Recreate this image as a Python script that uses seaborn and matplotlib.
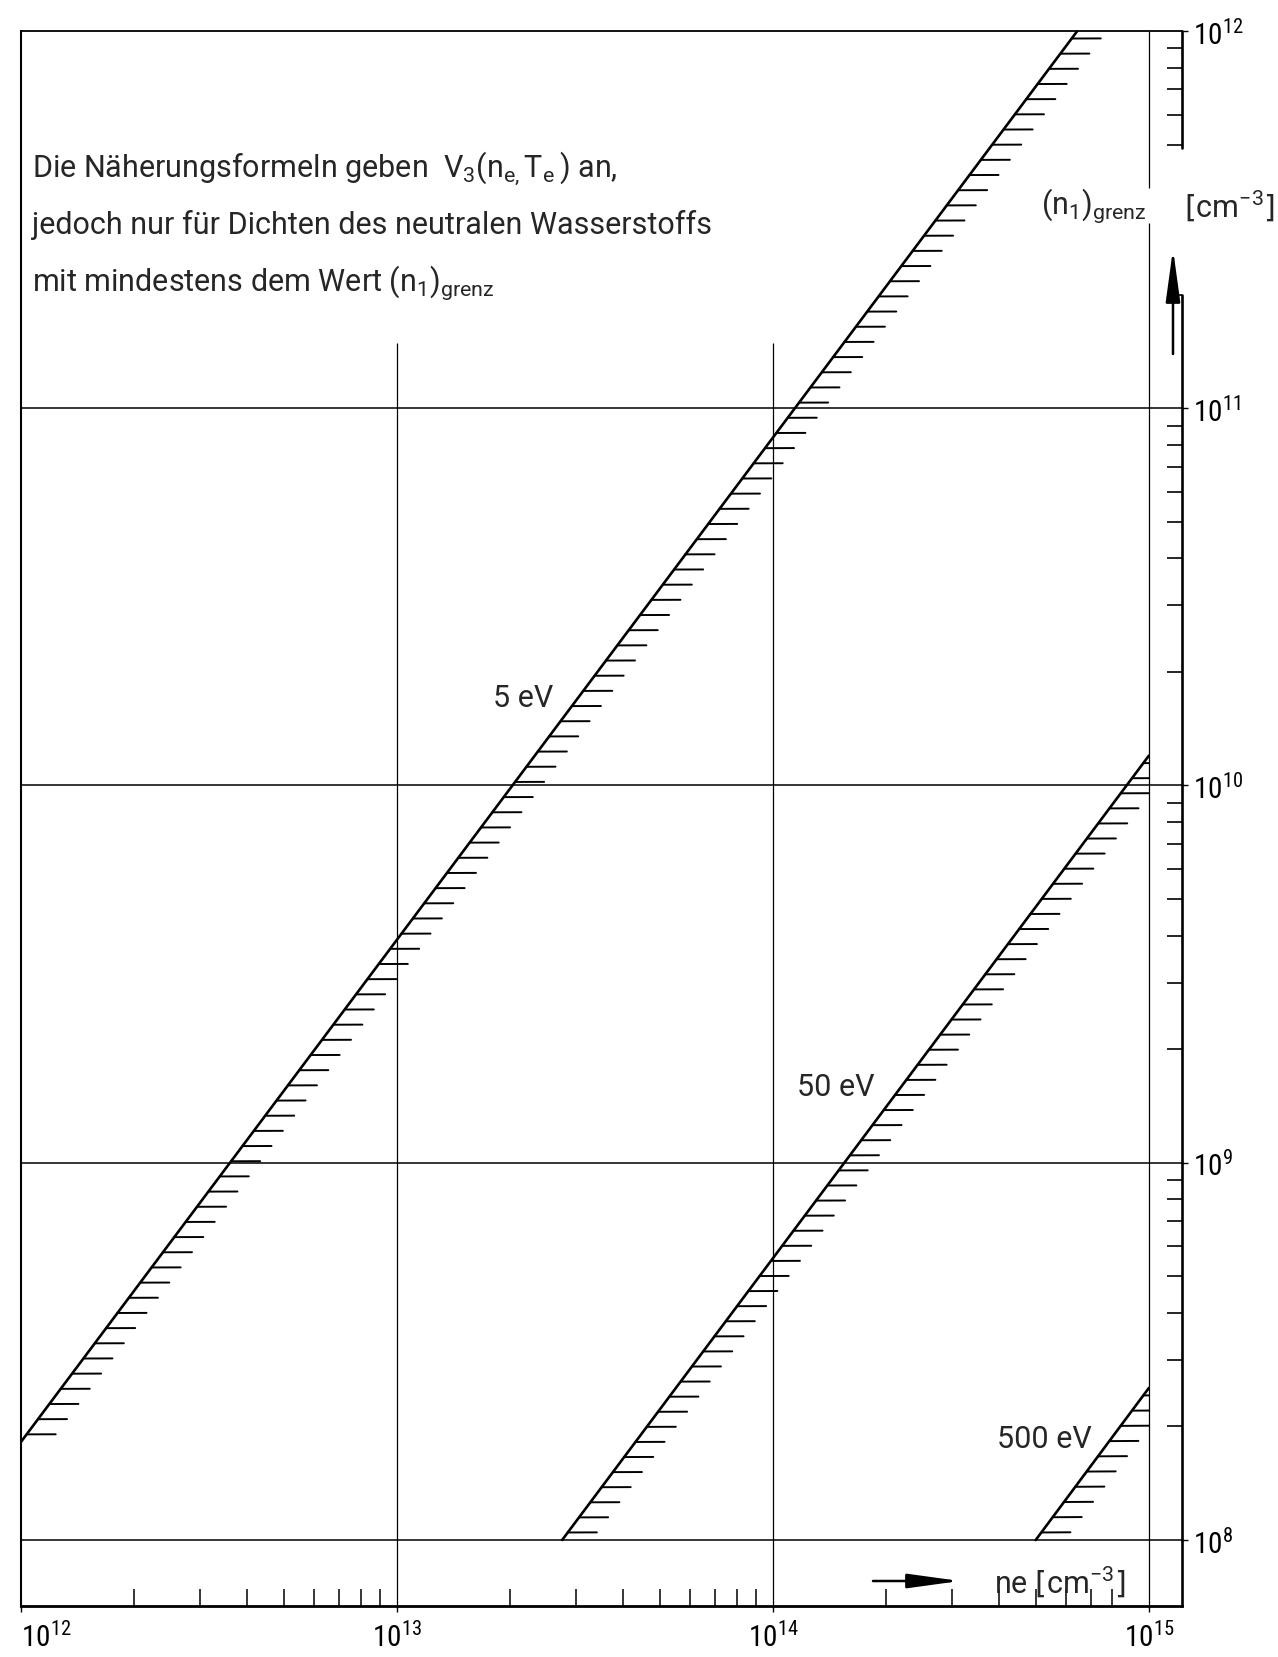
import matplotlib
matplotlib.use('Agg')
import numpy as np
import pandas as pd
import seaborn as sns
import matplotlib.pyplot as plt
from matplotlib import patheffects, font_manager
from matplotlib.patches import Rectangle
from matplotlib.ticker import FixedLocator, NullFormatter

# limit lines (n1)grenz vs ne, straight in log-log -> start / end points
temps = ['5 eV', '50 eV', '500 eV']
ne_start = [1.0e12, 2.75e13, 5.0e14]
ne_end = [6.45e14, 1.0e15, 1.0e15]
n1_start = [1.82e8, 1.0e8, 1.0e8]
n1_end = [1.0e12, 1.2e10, 2.53e8]

# where the temperature labels sit
label_ne = [2.16e13, 1.47e14, 5.28e14]
label_n1 = [1.71e10, 1.59e9, 1.86e8]

x_major = [1e12, 1e13, 1e14, 1e15]
y_major = [1e8, 1e9, 1e10, 1e11, 1e12]
x_labels = [r'$\mathregular{10^{12}}$', r'$\mathregular{10^{13}}$',
            r'$\mathregular{10^{14}}$', r'$\mathregular{10^{15}}$']
y_labels = [r'$\mathregular{10^{8}}$', r'$\mathregular{10^{9}}$', r'$\mathregular{10^{10}}$',
            r'$\mathregular{10^{11}}$', r'$\mathregular{10^{12}}$']

note_lines = [
    r'Die Näherungsformeln geben  $\mathregular{V_3(n_{e,}T_e\,)}$ an,',
    'jedoch nur für Dichten des neutralen Wasserstoffs',
    r'mit mindestens dem Wert $\mathregular{(n_1)_{grenz}}$',
]

xlim = (1e12, 10 ** 15.088)
ylim = (10 ** 7.825, 1e12)

sns.set_theme(style='white')
names = {f.name for f in font_manager.fontManager.ttflist}
main_font = 'Roboto' if 'Roboto' in names else 'DejaVu Sans'
tick_font = next((f for f in ['Roboto Condensed', 'Liberation Sans Narrow'] if f in names), main_font)
plt.rcParams['font.family'] = [main_font, 'DejaVu Sans']
plt.rcParams['mathtext.fontset'] = 'dejavusans'

W, H = 1278, 1658
fig = plt.figure(figsize=(W / 100, H / 100), dpi=100)
fig.patch.set_facecolor('white')
ax = fig.add_axes([21 / W, 51 / H, 1161 / W, 1575 / H])
ax.set_xscale('log')
ax.set_yscale('log')

# grid
for y in y_major[:-1]:
    ax.axhline(y, color='black', lw=1.1, zorder=1)
ax.vlines([1e13, 1e14], ylim[0], 1.49e11, color='black', lw=0.9, zorder=1)
ax.vlines(1e15, ylim[0], 10 ** 11.49, color='black', lw=0.9, zorder=1)
ax.vlines(1e15, 10 ** 11.585, ylim[1], color='black', lw=0.9, zorder=1)

# hatched limit lines, hatches stop at the 10^15 line
ticked = [patheffects.withTickedStroke(spacing=13.5, angle=-53, length=1.55, linewidth=1.4)]
for i, t in enumerate(temps):
    df = pd.DataFrame({'ne': [ne_start[i], ne_end[i]], 'n1': [n1_start[i], n1_end[i]]})
    sns.lineplot(data=df, x='ne', y='n1', ax=ax, color='black', lw=1.9,
                 path_effects=ticked, zorder=3)
    clip = Rectangle((1e12, ylim[0]), 1e15 - 1e12, 1e12 - ylim[0], transform=ax.transData)
    ax.lines[-1].set_clip_path(clip)
    ax.text(label_ne[i], label_n1[i], t, ha='center', va='center', fontsize=22)

ax.set_xlim(xlim)
ax.set_ylim(ylim)
ax.set_xlabel('')
ax.set_ylabel('')

# frame
ax.spines['right'].set_visible(False)
ax.spines['left'].set_linewidth(1.5)
ax.spines['top'].set_linewidth(1.3)
ax.spines['bottom'].set_linewidth(2.0)
for s in ax.spines.values():
    s.set_color('black')
ytr = ax.get_yaxis_transform()
ax.plot([1, 1], [ylim[0], 2e11], color='black', lw=1.9, transform=ytr, clip_on=False)
ax.plot([1, 1], [4.9e11, 1e12], color='black', lw=1.9, transform=ytr, clip_on=False)

# ticks
x_minor = [m * 10 ** k for k in (12, 13, 14) for m in range(2, 10) if not (k == 14 and m == 9)]
y_minor = [m * 10 ** k for k in (8, 9, 10, 11) for m in range(2, 10) if not (k == 11 and m in (3, 4))]
ax.xaxis.set_major_locator(FixedLocator(x_major))
ax.xaxis.set_minor_locator(FixedLocator(x_minor))
ax.set_xticklabels(x_labels)
ax.xaxis.set_minor_formatter(NullFormatter())
ax.yaxis.tick_right()
ax.yaxis.set_major_locator(FixedLocator(y_major))
ax.yaxis.set_minor_locator(FixedLocator(y_minor))
ax.set_yticklabels(y_labels)
ax.yaxis.set_minor_formatter(NullFormatter())
ax.tick_params(axis='x', which='major', direction='out', length=4, width=1.0, pad=7,
               labelsize=21, colors='black', bottom=True)
ax.tick_params(axis='x', which='minor', direction='in', length=12, width=1.3, bottom=True)
ax.tick_params(axis='y', which='major', direction='out', length=4, width=1.0, pad=4,
               labelsize=21, colors='black', right=True, left=False)
ax.tick_params(axis='y', which='minor', direction='in', length=11, width=1.4, right=True, left=False)
for lab in ax.get_xticklabels() + ax.get_yticklabels():
    lab.set_fontfamily(tick_font)
ax.get_xticklabels()[0].set_horizontalalignment('left')

# notes and axis captions
for j, line in enumerate(note_lines):
    fig.text(32 / W, 1 - (177 + 57 * j) / H, line, fontsize=22, ha='left', va='baseline')

fig.text(1041 / W, 1 - 206 / H, r'$\mathregular{(n_1)_{grenz}}$', fontsize=22, ha='left', va='center')
fig.text(1184 / W, 1 - 206 / H, r'$\left[\mathregular{cm^{-3}}\right]$', fontsize=22, ha='left', va='center')
fig.text(994 / W, 1 - 1582 / H, r'ne $\left[\mathregular{cm^{-3}}\right]$', fontsize=22, ha='left', va='center')

arrow = dict(arrowstyle='-|>,head_length=1.6,head_width=0.22', color='black', lw=1.8,
             mutation_scale=20, shrinkA=0, shrinkB=0)
ax.annotate('', xy=(960 / W, 1 - 1582 / H), xytext=(873 / W, 1 - 1582 / H),
            xycoords='figure fraction', textcoords='figure fraction', arrowprops=arrow)
ax.annotate('', xy=(1173 / W, 1 - 250 / H), xytext=(1173 / W, 1 - 355 / H),
            xycoords='figure fraction', textcoords='figure fraction', arrowprops=arrow)

fig.savefig('out.png', dpi=100, facecolor='white')
